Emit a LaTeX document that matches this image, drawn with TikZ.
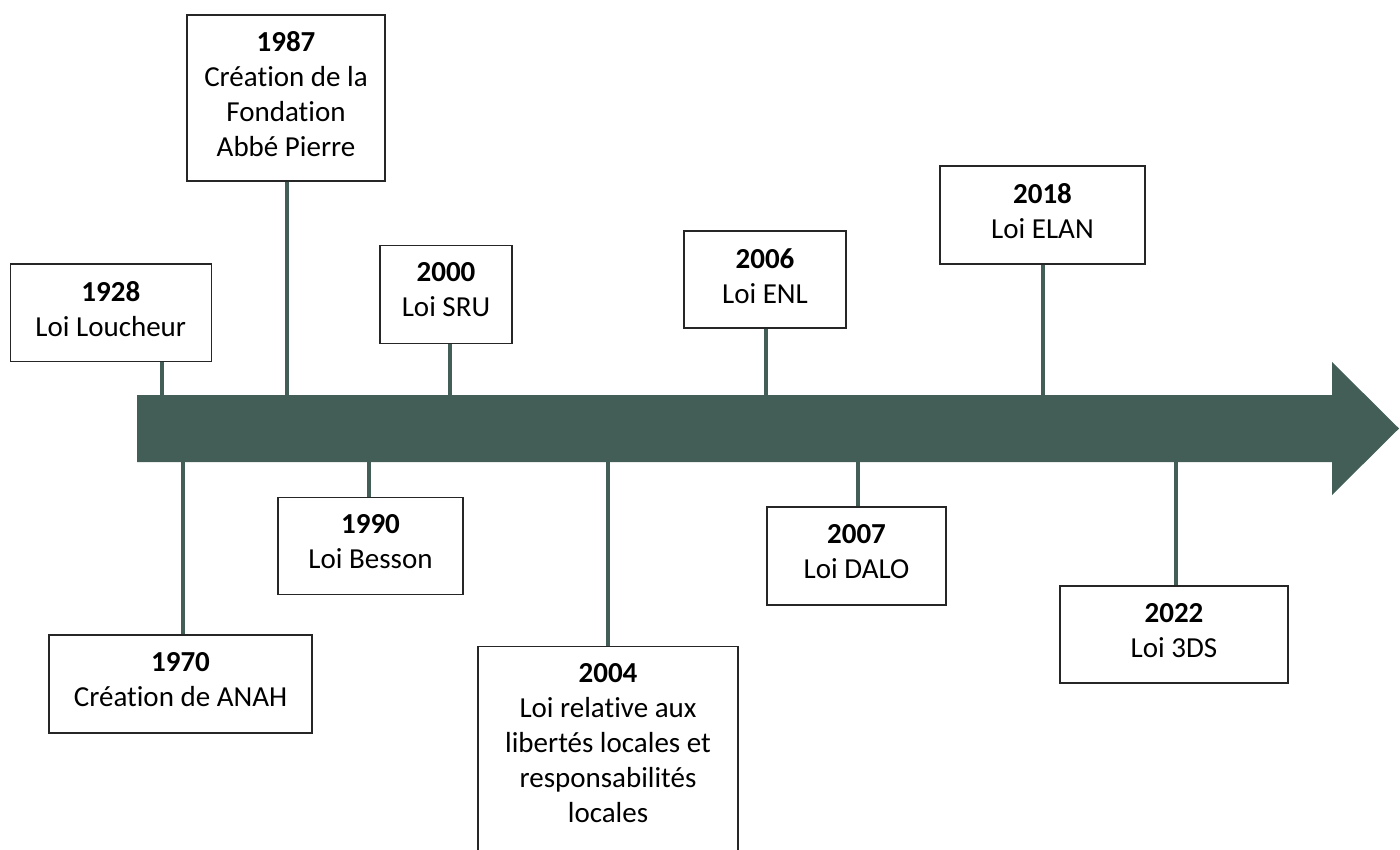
\documentclass[tikz,border=0pt]{standalone}
\usepackage{fontspec}
\setmainfont{Carlito}[RawFeature={-liga;-clig;-calt;-dlig}]
\definecolor{tl}{RGB}{67,94,87}
\begin{document}
\begin{tikzpicture}[x=1pt,y=-1pt,
  box/.style={draw=black!85, line width=1.1pt, fill=white, rectangle, inner sep=0pt},
  txt/.style={align=center, inner sep=0pt, anchor=north, font=\fontsize{29}{35}\selectfont},
  conn/.style={draw=tl, line width=4pt}]
\useasboundingbox (0,0) rectangle (1400,850);
\clip (0,0) rectangle (1400,850);
% timeline arrow
\fill[tl] (137,395) -- (1332,395) -- (1332,362) -- (1399,428.5) -- (1332,495) -- (1332,462) -- (137,462) -- cycle;
\coordinate (top) at (0,395);
\coordinate (bot) at (0,462);
% boxes
\node[box, minimum width=200.5, minimum height=97.5] (b1928) at (110.8,312.8) {};
\node[box, minimum width=198, minimum height=166] (b1987) at (286,98) {};
\node[box, minimum width=132, minimum height=97.5] (b2000) at (446,294.3) {};
\node[box, minimum width=162, minimum height=97] (b2006) at (765,279.5) {};
\node[box, minimum width=205, minimum height=98] (b2018) at (1042.5,215) {};
\node[box, minimum width=263, minimum height=98] (b1970) at (180.5,684) {};
\node[box, minimum width=185, minimum height=97.5] (b1990) at (370.5,545.8) {};
\node[box, minimum width=260, minimum height=230, anchor=north] (b2004) at (608,646) {};
\node[box, minimum width=179, minimum height=98] (b2007) at (856.5,556) {};
\node[box, minimum width=228, minimum height=97] (b2022) at (1174,634.5) {};
% texts
\node[txt] (t1928) at ([yshift=-17.7pt]b1928.north) {\textbf{1928}\\Loi Loucheur};
\node[txt] (t1987) at ([yshift=-17.2pt]b1987.north) {\textbf{1987}\\Création de la\\Fondation\\Abbé Pierre};
\node[txt] (t2000) at ([yshift=-17.7pt]b2000.north) {\textbf{2000}\\Loi SRU};
\node[txt] (t2006) at ([yshift=-17.7pt]b2006.north) {\textbf{2006}\\Loi ENL};
\node[txt] (t2018) at ([yshift=-17.7pt]b2018.north) {\textbf{2018}\\Loi ELAN};
\node[txt] (t1970) at ([yshift=-17.7pt]b1970.north) {\textbf{1970}\\Création de ANAH};
\node[txt] (t1990) at ([yshift=-17.7pt]b1990.north) {\textbf{1990}\\Loi Besson};
\node[txt] (t2004) at ([yshift=-17.7pt]b2004.north) {\textbf{2004}\\Loi relative aux\\libertés locales et\\responsabilités\\locales};
\node[txt] (t2007) at ([yshift=-17.7pt]b2007.north) {\textbf{2007}\\Loi DALO};
\node[txt] (t2022) at ([yshift=-17.7pt]b2022.north) {\textbf{2022}\\Loi 3DS};
% connector anchor points
\coordinate (c1928) at (161.5,0);
\coordinate (c1987) at (287,0);
\coordinate (c2000) at (450,0);
\coordinate (c2006) at (766,0);
\coordinate (c2018) at (1043,0);
\coordinate (c1970) at (183,0);
\coordinate (c1990) at (368.5,0);
\coordinate (c2004) at (608,0);
\coordinate (c2007) at (858,0);
\coordinate (c2022) at (1176,0);
% connectors
\draw[conn] (c1928 |- b1928.south) -- (c1928 |- top);
\draw[conn] (c1987 |- b1987.south) -- (c1987 |- top);
\draw[conn] (c2000 |- b2000.south) -- (c2000 |- top);
\draw[conn] (c2006 |- b2006.south) -- (c2006 |- top);
\draw[conn] (c2018 |- b2018.south) -- (c2018 |- top);
\draw[conn] (c1970 |- bot) -- (c1970 |- b1970.north);
\draw[conn] (c1990 |- bot) -- (c1990 |- b1990.north);
\draw[conn] (c2004 |- bot) -- (c2004 |- b2004.north);
\draw[conn] (c2007 |- bot) -- (c2007 |- b2007.north);
\draw[conn] (c2022 |- bot) -- (c2022 |- b2022.north);
\end{tikzpicture}
\end{document}
